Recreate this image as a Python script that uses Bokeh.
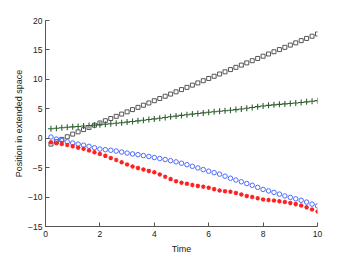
from bokeh.plotting import figure
from bokeh.models import Range1d, FixedTicker
from bokeh.embed import file_html
from bokeh.resources import INLINE

t = [0.2, 0.4, 0.6, 0.8, 1.0, 1.2, 1.4, 1.6, 1.8, 2.0,
     2.2, 2.4, 2.6, 2.8, 3.0, 3.2, 3.4, 3.6, 3.8, 4.0,
     4.2, 4.4, 4.6, 4.8, 5.0, 5.2, 5.4, 5.6, 5.8, 6.0,
     6.2, 6.4, 6.6, 6.8, 7.0, 7.2, 7.4, 7.6, 7.8, 8.0,
     8.2, 8.4, 8.6, 8.8, 9.0, 9.2, 9.4, 9.6, 9.8, 10.0]

squares = [-1.0, -0.6, -0.2, 0.25, 0.7, 1.08, 1.46, 1.83, 2.21, 2.59,
           2.97, 3.35, 3.72, 4.10, 4.48, 4.86, 5.24, 5.61, 5.99, 6.37,
           6.75, 7.13, 7.50, 7.88, 8.26, 8.64, 9.02, 9.39, 9.77, 10.15,
           10.53, 10.91, 11.28, 11.66, 12.04, 12.42, 12.80, 13.17, 13.55, 13.93,
           14.31, 14.69, 15.06, 15.44, 15.82, 16.20, 16.58, 16.95, 17.33, 17.71]

pluses = [1.60, 1.70, 1.78, 1.86, 1.93, 2.00, 2.08, 2.15, 2.22, 2.30,
          2.38, 2.46, 2.55, 2.64, 2.74, 2.84, 2.95, 3.06, 3.17, 3.28,
          3.40, 3.52, 3.64, 3.76, 3.88, 3.99, 4.10, 4.20, 4.30, 4.40,
          4.49, 4.58, 4.67, 4.76, 4.86, 4.97, 5.10, 5.23, 5.36, 5.48,
          5.58, 5.67, 5.75, 5.83, 5.91, 5.99, 6.08, 6.18, 6.28, 6.38]

circles = [0.2, -0.15, -0.42, -0.62, -0.82, -1.0, -1.18, -1.38, -1.62, -1.85,
           -1.95, -2.05, -2.18, -2.35, -2.52, -2.67, -2.80, -2.95, -3.10, -3.28,
           -3.45, -3.62, -3.82, -4.02, -4.25, -4.5, -4.77, -5.05, -5.33, -5.6,
           -5.85, -6.1, -6.45, -6.8, -7.1, -7.4, -7.7, -8.0, -8.35, -8.7,
           -8.95, -9.2, -9.5, -9.8, -10.05, -10.3, -10.55, -10.85, -11.2, -11.5]

stars = [-0.7, -0.85, -1.0, -1.15, -1.35, -1.6, -1.8, -2.1, -2.4, -2.7,
         -3.0, -3.35, -3.7, -4.1, -4.45, -4.8, -5.05, -5.3, -5.55, -5.8,
         -6.15, -6.55, -6.95, -7.3, -7.55, -7.75, -7.95, -8.1, -8.25, -8.4,
         -8.65, -8.9, -9.0, -9.1, -9.3, -9.55, -9.8, -10.0, -10.2, -10.4,
         -10.5, -10.6, -10.7, -10.85, -11.0, -11.2, -11.45, -11.75, -12.1, -12.45]

x_ticks = [0, 2, 4, 6, 8, 10]
y_ticks = [-15, -10, -5, 0, 5, 10, 15, 20]

p = figure(width=340, height=256, output_backend="svg", toolbar_location=None,
           x_range=Range1d(0, 10), y_range=Range1d(-15, 20),
           min_border_left=45, min_border_right=23, min_border_top=20,
           min_border_bottom=26)
p.outline_line_color = None
p.grid.visible = False
p.background_fill_color = "white"
p.border_fill_color = "white"

for ax in (p.xaxis[0], p.yaxis[0]):
    ax.major_tick_in = 4
    ax.major_tick_out = 0
    ax.minor_tick_line_color = None
    ax.axis_line_color = "#555555"
    ax.major_tick_line_color = "#555555"
    ax.major_label_text_font = "Liberation Sans"
    ax.major_label_text_font_size = "8.5px"
    ax.major_label_text_color = "#222222"
    ax.axis_label_text_font = "Liberation Sans"
    ax.axis_label_text_font_size = "9px"
    ax.axis_label_text_font_style = "normal"
    ax.axis_label_text_color = "#222222"

p.xaxis.major_label_standoff = 4
p.xaxis.axis_label_standoff = 4
p.yaxis.major_label_standoff = 3
p.yaxis.axis_label_standoff = 1

p.xaxis.ticker = FixedTicker(ticks=x_ticks)
p.yaxis.ticker = FixedTicker(ticks=y_ticks)
p.yaxis.major_label_overrides = {v: ("\u2212" + str(-v) if v < 0 else str(v)) for v in y_ticks}
p.xaxis.axis_label = "Time"
p.yaxis.axis_label = "Position in extended space"

p.scatter(t, squares, marker="square", size=4, fill_color=None,
          line_color="#555555", line_width=1)
p.scatter(t, pluses, marker="cross", size=6, line_color="#2f5f2f", line_width=1.1)
p.scatter(t, circles, marker="circle", size=4.5, fill_color=None,
          line_color="#4d6bff", line_width=1)
p.scatter(t, stars, marker="asterisk", size=4.5, line_color="#ff2020", line_width=1.2)

open("out.html", "w").write(file_html(p, INLINE))
